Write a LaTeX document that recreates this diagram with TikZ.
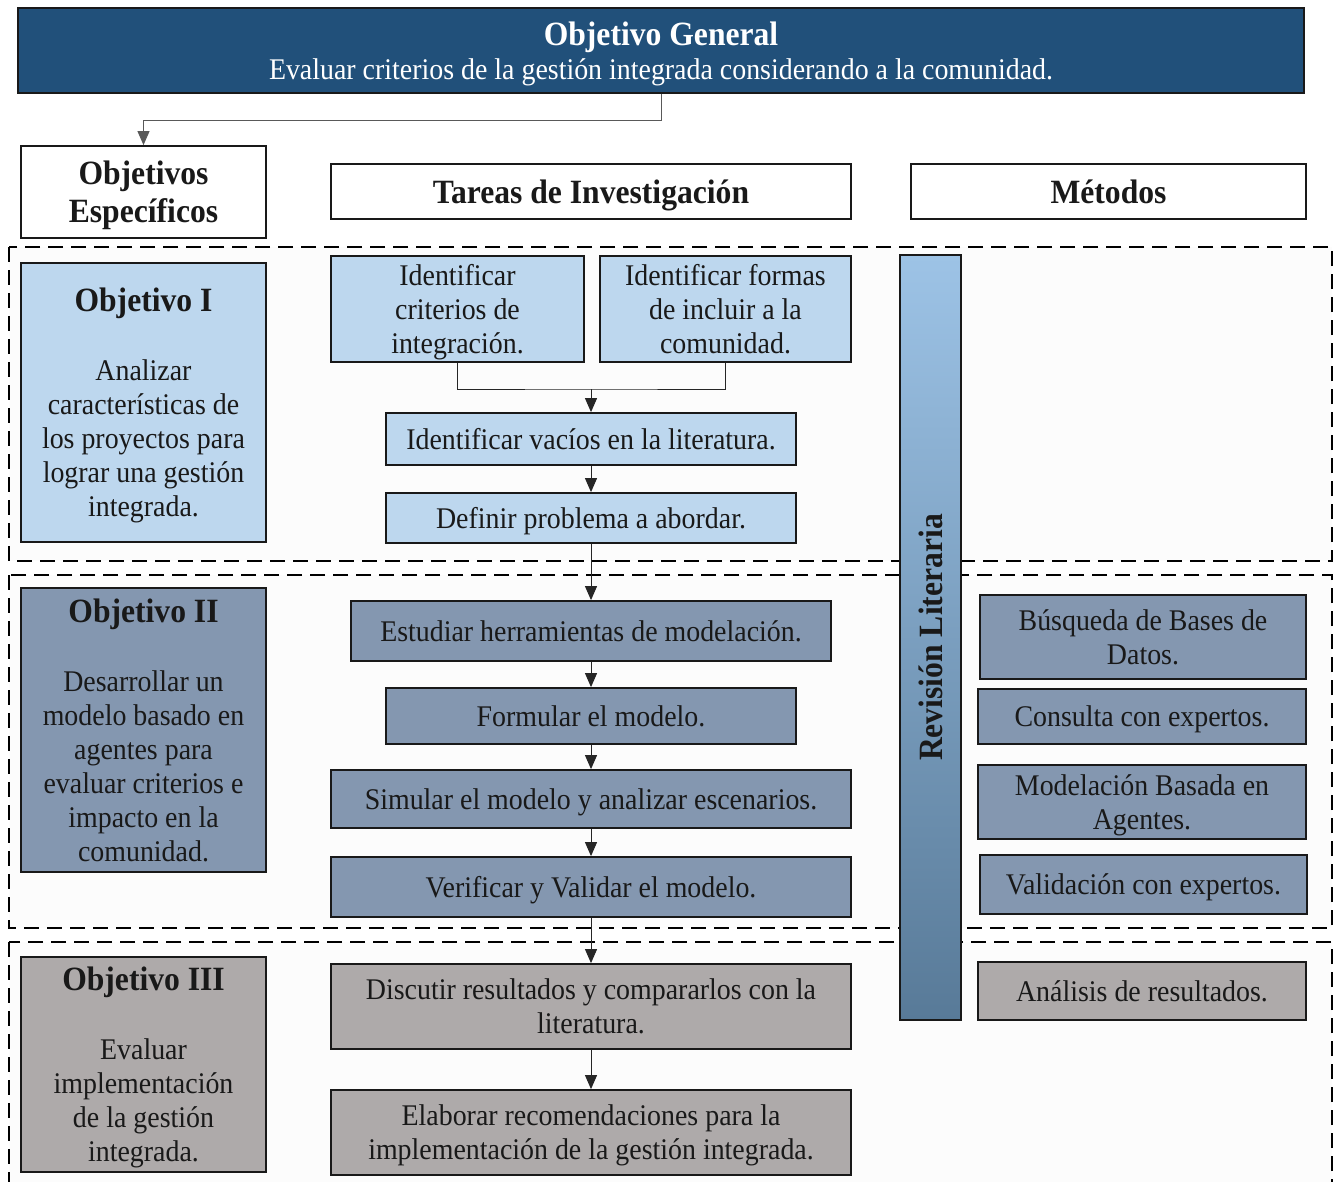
\documentclass[tikz,border=0pt]{standalone}
\usepackage{fontspec}
\setmainfont[FakeStretch=0.93]{Liberation Serif}
\usetikzlibrary{arrows.meta}

\definecolor{genblue}{RGB}{33,80,122}
\definecolor{lblue}{RGB}{189,215,238}
\definecolor{slate}{RGB}{132,151,176}
\definecolor{warmgray}{RGB}{174,170,170}
\definecolor{revtop}{RGB}{157,195,230}
\definecolor{revbot}{RGB}{88,122,152}
\definecolor{zonefill}{RGB}{252,252,252}

\newcommand\txtsz{\fontsize{30}{34}\selectfont}
\newcommand\hdsz{\bfseries\fontsize{34}{38}\selectfont}

\tikzset{
  box/.style={draw=black!90, line width=1.8pt, align=center, inner sep=0pt,
              font=\txtsz, text=black!90, text depth=0pt},
  headbox/.style={box, fill=white, font=\hdsz},
  zone/.style={draw=black, line width=2.5pt, dash pattern=on 15pt off 8pt,
               fill=zonefill},
  arr/.style={draw=black!85, line width=1pt,
              -{Triangle[length=14pt,width=12pt]}},
  link/.style={draw=black!70, line width=1pt},
}

\begin{document}
\begin{tikzpicture}[x=1pt, y=-1pt]
\useasboundingbox (0,0) rectangle (1340,1181);
\clip (0,0) rectangle (1340,1181);

% dashed bands, one per specific objective
\draw[zone] (9,247) rectangle (1332,561);
\draw[zone] (9,575) rectangle (1332,928);
\draw[zone] (9,942) rectangle (1332,1200);

% general objective
\node[box, fill=genblue, text=white, minimum width=1286pt, minimum height=85pt]
  (gen) at (661,50.5)
  {{\hdsz Objetivo General}\\[0pt]Evaluar criterios de la gestión integrada considerando a la comunidad.};

% column headers
\node[headbox, minimum width=245pt, minimum height=92pt] (esp) at (143.5,192)
  {Objetivos\\Específicos};
\node[headbox, minimum width=520pt, minimum height=55pt] (tar) at (591,191.5)
  {Tareas de Investigación};
\node[headbox, minimum width=395pt, minimum height=55pt] (met) at (1108.5,191.5)
  {Métodos};

% literature review bar spanning the three bands
\node[draw=black!90, line width=1.8pt, top color=revtop, bottom color=revbot,
      minimum width=61pt, minimum height=765pt, inner sep=0pt] (rev) at (930.5,637.5) {};
\node[rotate=90, font=\hdsz, text=black!90] (revtxt) at (rev.center) {Revisión Literaria};

% ---- Objetivo I ----
\node[box, fill=lblue, minimum width=245pt, minimum height=279pt] (obj1) at (143.5,402.5)
  {{\hdsz Objetivo I}\\[35pt]Analizar\\características de\\los proyectos para\\lograr una gestión\\integrada.};
\node[box, fill=lblue, minimum width=253pt, minimum height=106pt] (t1a) at (457.5,309)
  {Identificar\\criterios de\\integración.};
\node[box, fill=lblue, minimum width=251pt, minimum height=106pt] (t1b) at (725.5,309)
  {Identificar formas\\de incluir a la\\comunidad.};
\node[box, fill=lblue, minimum width=410pt, minimum height=52pt] (t1c) at (591,439)
  {Identificar vacíos en la literatura.};
\node[box, fill=lblue, minimum width=410pt, minimum height=50pt] (t1d) at (591,518)
  {Definir problema a abordar.};

% ---- Objetivo II ----
\node[box, fill=slate, minimum width=245pt, minimum height=284pt] (obj2) at (143.5,730)
  {{\hdsz Objetivo II}\\[35pt]Desarrollar un\\modelo basado en\\agentes para\\evaluar criterios e\\impacto en la\\comunidad.};
\node[box, fill=slate, minimum width=480pt, minimum height=60pt] (t2a) at (591,631)
  {Estudiar herramientas de modelación.};
\node[box, fill=slate, minimum width=410pt, minimum height=56pt] (t2b) at (591,716)
  {Formular el modelo.};
\node[box, fill=slate, minimum width=520pt, minimum height=58pt] (t2c) at (591,799)
  {Simular el modelo y analizar escenarios.};
\node[box, fill=slate, minimum width=520pt, minimum height=60pt] (t2d) at (591,887)
  {Verificar y Validar el modelo.};
\node[box, fill=slate, minimum width=326pt, minimum height=84pt] (m1) at (1143,637)
  {Búsqueda de Bases de\\Datos.};
\node[box, fill=slate, minimum width=328pt, minimum height=55pt] (m2) at (1142,716.5)
  {Consulta con expertos.};
\node[box, fill=slate, minimum width=328pt, minimum height=74pt] (m3) at (1142,802)
  {Modelación Basada en\\Agentes.};
\node[box, fill=slate, minimum width=327pt, minimum height=59pt] (m4) at (1143.5,884.5)
  {Validación con expertos.};

% ---- Objetivo III ----
\node[box, fill=warmgray, minimum width=245pt, minimum height=215pt] (obj3) at (143.5,1064.5)
  {{\hdsz Objetivo III}\\[35pt]Evaluar\\implementación\\de la gestión\\integrada.};
\node[box, fill=warmgray, minimum width=520pt, minimum height=85pt] (t3a) at (591,1006.5)
  {Discutir resultados y compararlos con la\\literatura.};
\node[box, fill=warmgray, minimum width=520pt, minimum height=85pt] (t3b) at (591,1132.5)
  {Elaborar recomendaciones para la\\implementación de la gestión integrada.};
\node[box, fill=warmgray, minimum width=328pt, minimum height=58pt] (m5) at (1142,991)
  {Análisis de resultados.};

% ---- connectors ----
\coordinate (bend) at (143.5,120);
\draw[arr, draw=black!65] (gen.south) |- (bend) -- (esp.north);

\coordinate (join) at (591,389);
\draw[link, draw=black!85] (t1a.south) |- (join) -| (t1b.south);
\draw[arr] (join) -- (t1c.north);
\draw[arr] (t1c.south) -- (t1d.north);
\draw[arr] (t1d.south) -- (t2a.north);
\draw[arr] (t2a.south) -- (t2b.north);
\draw[arr] (t2b.south) -- (t2c.north);
\draw[arr] (t2c.south) -- (t2d.north);
\draw[arr] (t2d.south) -- (t3a.north);
\draw[arr] (t3a.south) -- (t3b.north);
\end{tikzpicture}
\end{document}
